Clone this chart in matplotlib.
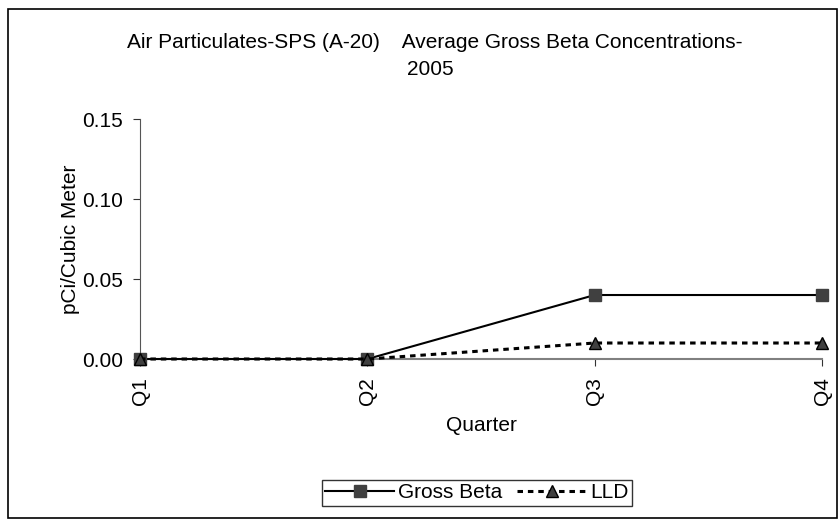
import matplotlib.pyplot as plt
from matplotlib.patches import Rectangle

quarters = ["Q1", "Q2", "Q3", "Q4"]
gross_beta = [0.0, 0.0, 0.04, 0.04]
lld = [0.0, 0.0, 0.01, 0.01]
y_ticks = [0.00, 0.05, 0.10, 0.15]

plt.rcParams["font.family"] = ["Liberation Sans", "DejaVu Sans"]
FS = 15

fig = plt.figure(figsize=(8.4, 5.2), dpi=100)
ax = fig.add_axes([0.1667, 0.3096, 0.812, 0.4615])

x = list(range(len(quarters)))
ax.plot(x, gross_beta, color="black", lw=1.5, marker="s", markersize=8.5,
        markerfacecolor="#404040", markeredgecolor="#404040", label="Gross Beta",
        zorder=3, clip_on=False)
ax.plot(x, lld, color="black", lw=2.2, ls=(0, (1.8, 1.6)), marker="^", markersize=9,
        markerfacecolor="#404040", markeredgecolor="black", label="LLD",
        zorder=4, clip_on=False)

ax.set_xlim(0, len(quarters) - 1)
ax.set_ylim(y_ticks[0], y_ticks[-1])
ax.set_xticks(x, quarters, rotation=90, fontsize=FS)
ax.set_yticks(y_ticks, [f"{v:.2f}" for v in y_ticks], fontsize=FS)
ax.tick_params(axis="y", length=5, color="#333333", pad=7)
ax.tick_params(axis="x", length=5, color="#333333", pad=8)
for side in ("top", "right"):
    ax.spines[side].set_visible(False)
ax.spines["left"].set_color("#555555")
ax.spines["bottom"].set_color("#808080")
ax.spines["bottom"].set_linewidth(1.5)

ax.set_xlabel("Quarter", fontsize=FS, labelpad=8)
ax.set_ylabel("pCi/Cubic Meter", fontsize=FS, labelpad=2)

fig.text(0.518, 1 - 48 / 520, "Air Particulates-SPS (A-20)    Average Gross Beta Concentrations-",
         ha="center", va="baseline", fontsize=FS)
fig.text(407 / 840, 1 - 75 / 520, "2005", ha="left", va="baseline", fontsize=FS)

fig.legend(loc="center", bbox_to_anchor=(477 / 840, 1 - 493 / 520), ncol=2, fontsize=FS,
           frameon=True, fancybox=False, edgecolor="black", handlelength=3.3,
           handletextpad=0.2, columnspacing=0.7, borderpad=0.15, borderaxespad=0)

fig.patches.append(Rectangle((0.009, 0.004), 0.988, 0.978, transform=fig.transFigure,
                             fill=False, edgecolor="black", lw=1.2))

fig.savefig("out.png", dpi=100)
